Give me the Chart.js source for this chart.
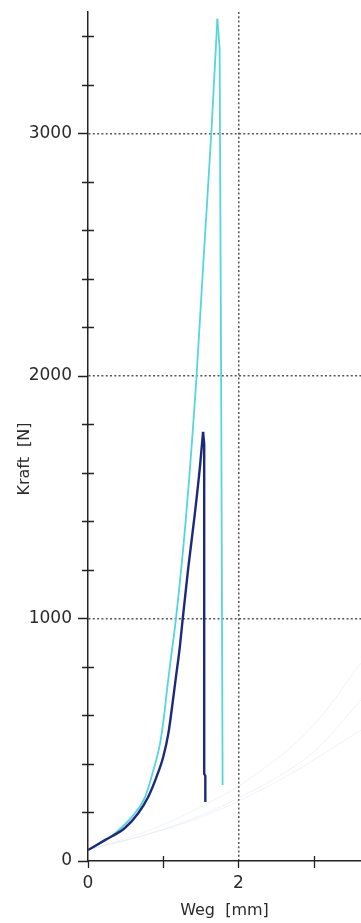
<!DOCTYPE html>
<html>
<head>
<meta charset="utf-8">
<script src="https://cdn.jsdelivr.net/npm/chart.js@4.4.1/dist/chart.umd.min.js"></script>
<style>
  html, body { margin: 0; padding: 0; background: #ffffff; }
  #wrap { width: 361px; height: 923px; position: relative; }
</style>
</head>
<body>
<div id="wrap"><canvas id="chart"></canvas></div>
<script>
// Kraft-Weg curves (rise up to the peak, then the break)
const cyanRiseWeg   = [0, 0.20, 0.36, 0.58, 0.76, 0.87, 0.96, 1.01, 1.05, 1.10, 1.17, 1.30, 1.44, 1.53, 1.64, 1.72];
const cyanRiseKraft = [45, 80, 115, 181, 264, 375, 487, 594, 705, 830, 1000, 1406, 1983, 2449, 3002, 3472];
const cyanDropWeg   = [1.72, 1.75, 1.77, 1.79];
const cyanDropKraft = [3472, 3350, 2000, 313];

const navyRiseWeg   = [0, 0.23, 0.49, 0.67, 0.80, 0.91, 1.00, 1.07, 1.12, 1.17, 1.22, 1.26, 1.33, 1.42, 1.49, 1.53];
const navyRiseKraft = [45, 87, 136, 198, 264, 346, 429, 528, 640, 760, 880, 1000, 1200, 1430, 1630, 1769];
const navyDropWeg   = [1.53, 1.545, 1.545, 1.56, 1.56];
const navyDropKraft = [1769, 1720, 360, 350, 243];

// very faint background curves
const faintAWeg   = [0, 1.0, 2.18, 3.0, 3.63];
const faintAKraft = [45, 150, 346, 560, 816];
const faintBWeg   = [0, 1.0, 1.95, 3.0, 3.63];
const faintBKraft = [45, 130, 252, 450, 664];
const faintCWeg   = [0, 1.5, 2.62, 3.63];
const faintCKraft = [45, 180, 346, 540];

const xLabels = { 0: '0', 2: '2' };
const yLabels = { 0: '0', 1000: '1000', 2000: '2000', 3000: '3000' };

const TEXT = '#2b2b2b';
const FONT = 'DejaVu Sans';
const CYAN = '#55d6da';
const NAVY = '#1d2a7c';
const FAINT = 'rgba(220, 228, 240, 0.45)';

function pts(xs, ys) {
  return xs.map((x, i) => ({ x, y: ys[i] }));
}

function lineSet(label, xs, ys, color, width, smooth) {
  return {
    label,
    data: pts(xs, ys),
    borderColor: color,
    backgroundColor: color,
    borderWidth: width,
    showLine: true,
    pointRadius: 0,
    cubicInterpolationMode: smooth ? 'monotone' : 'default',
    tension: 0,
  };
}

// tick marks crossing the axes + rotated y title
const axisDecor = {
  id: 'axisDecor',
  afterDraw(chart) {
    const { ctx, scales: { x, y } } = chart;
    const left = x.left;
    const bottom = y.bottom;
    ctx.save();
    ctx.strokeStyle = '#222';
    ctx.lineWidth = 1.3;
    ctx.beginPath();
    y.ticks.forEach((t) => {
      const py = Math.round(y.getPixelForValue(t.value)) + 0.5;
      if (t.value % 1000 === 0) {
        ctx.moveTo(left - 10, py);
        ctx.lineTo(left, py);
      } else {
        ctx.moveTo(left - 6, py);
        ctx.lineTo(left + 6, py);
      }
    });
    x.ticks.forEach((t) => {
      const px = Math.round(x.getPixelForValue(t.value)) + 0.5;
      const inner = (t.value === 1 || t.value === 3) ? 5 : 0;
      ctx.moveTo(px, bottom - inner);
      ctx.lineTo(px, bottom + 7);
    });
    ctx.stroke();

    ctx.fillStyle = TEXT;
    ctx.font = `16px "${FONT}"`;
    ctx.textAlign = 'center';
    ctx.textBaseline = 'middle';
    ctx.translate(25, 459);
    ctx.rotate(-Math.PI / 2);
    ctx.fillText('Kraft  [N]', 0, 0);
    ctx.restore();
  },
};

new Chart(document.getElementById('chart'), {
  type: 'scatter',
  data: {
    datasets: [
      lineSet('Probe 1', navyRiseWeg, navyRiseKraft, NAVY, 2.4, true),
      lineSet('Probe 1 Bruch', navyDropWeg, navyDropKraft, NAVY, 2.4, false),
      lineSet('Probe 2', cyanRiseWeg, cyanRiseKraft, CYAN, 1.8, true),
      lineSet('Probe 2 Bruch', cyanDropWeg, cyanDropKraft, CYAN, 1.8, false),
      lineSet('Probe 3', faintAWeg, faintAKraft, FAINT, 1, true),
      lineSet('Probe 4', faintBWeg, faintBKraft, FAINT, 1, true),
      lineSet('Probe 5', faintCWeg, faintCKraft, FAINT, 1, true),
    ],
  },
  options: {
    responsive: true,
    maintainAspectRatio: false,
    animation: false,
    layout: { padding: { top: 12, right: 0, left: 0, bottom: 0 } },
    plugins: {
      legend: { display: false },
      tooltip: { enabled: false },
    },
    scales: {
      x: {
        type: 'linear',
        min: 0,
        max: 3.63,
        afterFit: (s) => { s.height = 62; s.paddingLeft = 0; s.paddingRight = 0; },
        ticks: {
          stepSize: 1,
          includeBounds: false,
          autoSkip: false,
          maxRotation: 0,
          padding: 12,
          color: TEXT,
          font: { family: FONT, size: 17 },
          callback: (v) => xLabels[v] ?? '',
        },
        grid: {
          drawTicks: false,
          lineWidth: 1.5,
          color: (c) => (c.tick && c.tick.value === 2 ? '#555' : 'transparent'),
        },
        border: { display: true, color: '#222', width: 1.5, dash: [2, 2.3] },
        title: {
          display: true,
          text: 'Weg  [mm]',
          color: TEXT,
          font: { family: FONT, size: 16 },
          padding: { top: 0, bottom: 3 },
        },
      },
      y: {
        type: 'linear',
        min: 0,
        max: 3500,
        afterFit: (s) => { s.width = 88; s.paddingTop = 0; s.paddingBottom = 0; },
        ticks: {
          stepSize: 200,
          includeBounds: false,
          autoSkip: false,
          padding: 16,
          color: TEXT,
          font: { family: FONT, size: 17 },
          callback: (v) => yLabels[v] ?? '',
        },
        grid: {
          drawTicks: false,
          lineWidth: 1.5,
          color: (c) => (c.tick && c.tick.value > 0 && c.tick.value % 1000 === 0 ? '#555' : 'transparent'),
        },
        border: { display: true, color: '#222', width: 1.5, dash: [2, 2.3] },
      },
    },
  },
  plugins: [axisDecor],
});
</script>
</body>
</html>
